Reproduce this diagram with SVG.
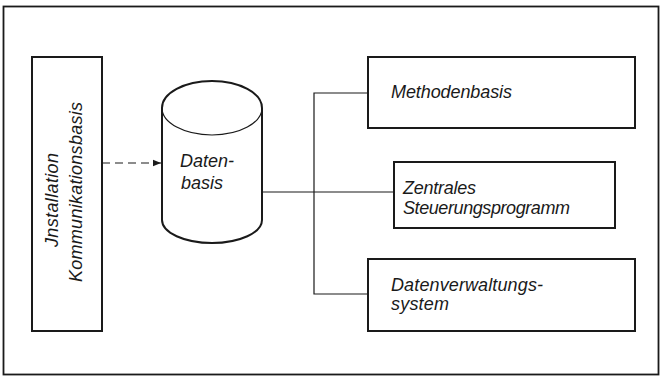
<svg xmlns="http://www.w3.org/2000/svg" width="665" height="379" viewBox="0 0 665 379">
<style>
.box{fill:#fff;stroke:#1a1a1a;stroke-width:2}
.t{font-family:"Liberation Sans",Arial,sans-serif;font-style:italic;font-size:18px;fill:#1a1a1a}
.c{fill:none;stroke:#1a1a1a;stroke-width:1.2}
</style>
<defs>
<marker id="ah" viewBox="0 0 10 10" refX="10" refY="5" markerWidth="10" markerHeight="8" markerUnits="userSpaceOnUse" orient="auto">
<path d="M0,1 L10,5 L0,9 Z" fill="#1a1a1a"/>
</marker>
</defs>
<rect width="665" height="379" fill="#fff"/>
<rect x="3.5" y="6.5" width="655" height="368" fill="none" stroke="#1a1a1a" stroke-width="1.8"/>
<g id="connectors">
<line class="c" x1="102" y1="163" x2="161" y2="163" stroke-dasharray="8,5" marker-end="url(#ah)"/>
<polyline class="c" points="368,93 314,93 314,294 368,294"/>
<line class="c" x1="262" y1="192" x2="394" y2="192"/>
</g>
<g id="installation">
<rect class="box" x="32" y="57" width="70" height="274"/>
<text class="t" transform="translate(58,200) rotate(-90)" text-anchor="middle" textLength="94">Jnstallation</text>
<text class="t" transform="translate(82,192) rotate(-90)" text-anchor="middle" textLength="180">Kommunikationsbasis</text>
</g>
<g id="datenbasis">
<path class="box" d="M162,108 A50,27 0 0,1 262,108 L262,220 A50,23 0 0,1 162,220 Z"/>
<path class="c" stroke-width="2" d="M162,108 A50,27 0 0,0 262,108"/>
<text class="t" x="180" y="167" textLength="54">Daten-</text>
<text class="t" x="181" y="189" textLength="42">basis</text>
</g>
<g id="methodenbasis">
<rect class="box" x="368" y="57" width="267" height="71"/>
<text class="t" x="391" y="98" textLength="121">Methodenbasis</text>
</g>
<g id="zentrales">
<rect class="box" x="394" y="162" width="221" height="66"/>
<text class="t" x="403" y="194" textLength="73">Zentrales</text>
<text class="t" x="403" y="214" textLength="167">Steuerungsprogramm</text>
</g>
<g id="datenverwaltung">
<rect class="box" x="368" y="259" width="267" height="72"/>
<text class="t" x="391" y="291" textLength="152">Datenverwaltungs-</text>
<text class="t" x="391" y="310" textLength="58">system</text>
</g>
</svg>
